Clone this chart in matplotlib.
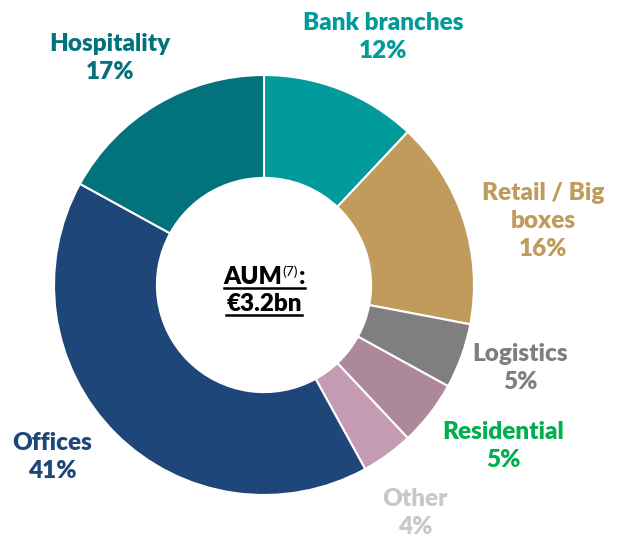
import matplotlib.pyplot as plt

# data
categories = ["Bank branches", "Retail / Big boxes", "Logistics", "Residential", "Other", "Offices", "Hospitality"]
shares = [12, 16, 5, 5, 4, 41, 17]
wedge_colors = ["#009B9A", "#C19B5C", "#7F7F7F", "#AD879A", "#C49BB3", "#1F4678", "#02727C"]
label_texts = ["Bank branches\n12%", "Retail / Big\nboxes\n16%", "Logistics\n5%", "Residential\n5%",
               "Other\n4%", "Offices\n41%", "Hospitality\n17%"]
label_colors = ["#009B9A", "#C19B5C", "#7F7F7F", "#00B050", "#C8C8C8", "#1F4678", "#02727C"]
# label centre positions in pixels (x, y from top)
label_pos = [(383, 37), (543, 221), (520, 368), (503, 446), (415, 513), (52, 457), (110, 58)]

W, H = 623, 537
FS = 17.5
fig = plt.figure(figsize=(W / 100, H / 100), dpi=100)
ax = fig.add_axes([0, 0, 1, 1])

cx, cy, r = 264, H - 285, 210
ax.pie(shares, colors=wedge_colors, startangle=90, counterclock=False,
       center=(cx, cy), radius=r, frame=True,
       wedgeprops=dict(width=r * 0.49, edgecolor="white", linewidth=1.5))
ax.set_xlim(0, W)
ax.set_ylim(0, H)
ax.set_aspect("equal")
ax.axis("off")

for txt, col, (x, y) in zip(label_texts, label_colors, label_pos):
    ax.text(x, H - y, txt, color=col, fontsize=FS, fontweight="heavy", family="Lato",
            ha="center", va="center", linespacing=1.32)

# centre text
fig.canvas.draw()
rend = fig.canvas.get_renderer()


def width_of(t):
    return t.get_window_extent(rend).width


y1, y2 = H - 284, H - 311
a = ax.text(0, y1, "AUM", fontsize=FS, fontweight="heavy", family="Lato", va="baseline")
b = ax.text(0, y1 + 8, "(7)", fontsize=10, family="Lato", va="baseline")
c = ax.text(0, y1, ":", fontsize=FS, fontweight="heavy", family="Lato", va="baseline")
fig.canvas.draw()
wa, wb, wc = width_of(a), width_of(b), width_of(c)
x0 = cx - (wa + wb + wc) / 2
a.set_x(x0)
b.set_x(x0 + wa)
c.set_x(x0 + wa + wb + 1)
d = ax.text(cx, y2, "€3.2bn", fontsize=FS, fontweight="heavy", family="Lato",
            ha="center", va="baseline")
fig.canvas.draw()
wd = width_of(d)
ax.plot([x0, x0 + wa + wb + wc + 1], [y1 - 4, y1 - 4], color="black", lw=1.8)
ax.plot([cx - wd / 2, cx + wd / 2], [y2 - 4, y2 - 4], color="black", lw=1.8)

fig.savefig("out.png", dpi=100)
